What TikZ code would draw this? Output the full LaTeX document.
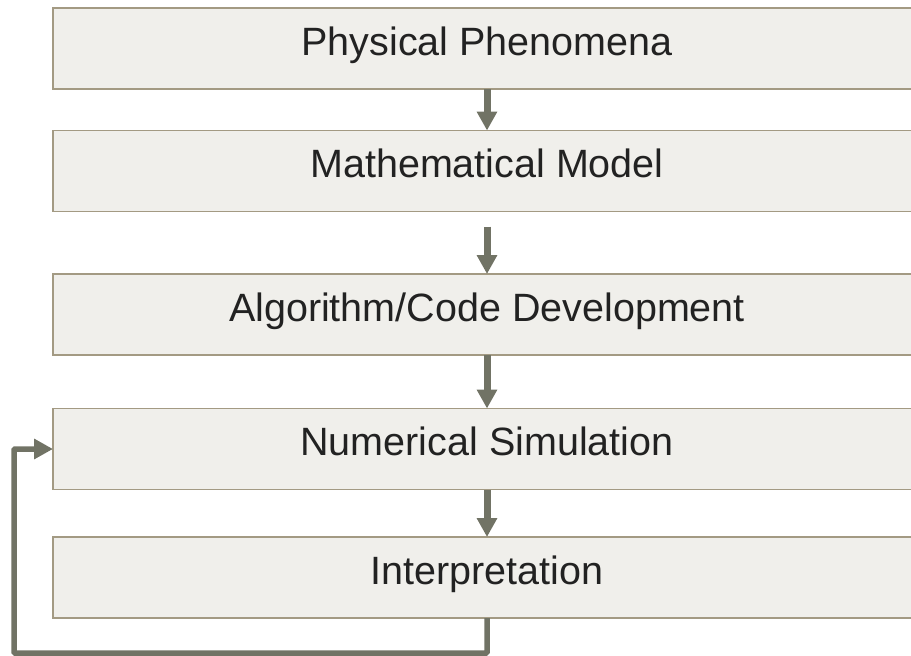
\documentclass[tikz,border=0pt]{standalone}
\usepackage{fontspec}
\setmainfont{Liberation Sans}
\usepackage{xcolor}
\usepackage{tikz}
\usetikzlibrary{arrows.meta,positioning}
\definecolor{boxfill}{RGB}{240,239,235}
\definecolor{boxline}{RGB}{163,154,131}
\definecolor{flowgray}{RGB}{113,115,101}
\definecolor{textgray}{RGB}{34,34,34}
\tikzstyle{stepbox} = [rectangle, draw=boxline, line width=1.2pt, fill=boxfill, minimum width=868pt, minimum height=81pt, inner sep=0pt, outer sep=0pt, text=textgray, font=\fontsize{39.5}{47}\selectfont, text height=26pt, text depth=13pt]
\tikzstyle{flow} = [draw=flowgray, line width=7pt, -{Triangle[width=19.5pt,length=19pt]}]
\tikzstyle{loopback} = [draw=flowgray, line width=5.5pt, -{Triangle[width=19.5pt,length=19pt]}]

\begin{document}
\begin{tikzpicture}[x=1pt, y=-1pt]
    \useasboundingbox (0,0) rectangle (911,656);

    % Steps
    \node [stepbox] (phys) at (487,48.5) {Physical Phenomena};
    \node [stepbox] (math) at (487,171) {Mathematical Model};
    \node [stepbox] (algo) at (487,314.5) {Algorithm/Code Development};
    \node [stepbox] (sim) at (487,449) {Numerical Simulation};
    \node [stepbox] (interp) at (487,577.5) {Interpretation};

    % Feedback corners
    \coordinate (loopbottom) at (14,653);

    % Connections
    \draw [flow] (phys.south) -- (math.north);
    \draw [flow] ([yshift=-15pt]math.south) -- (algo.north);
    \draw [flow] (algo.south) -- (sim.north);
    \draw [flow] (sim.south) -- (interp.north);
    \draw [loopback, rounded corners=1pt] (interp.south) -- (interp.south |- loopbottom) -- (loopbottom) -- (loopbottom |- sim.west) -- (sim.west);
\end{tikzpicture}
\end{document}
